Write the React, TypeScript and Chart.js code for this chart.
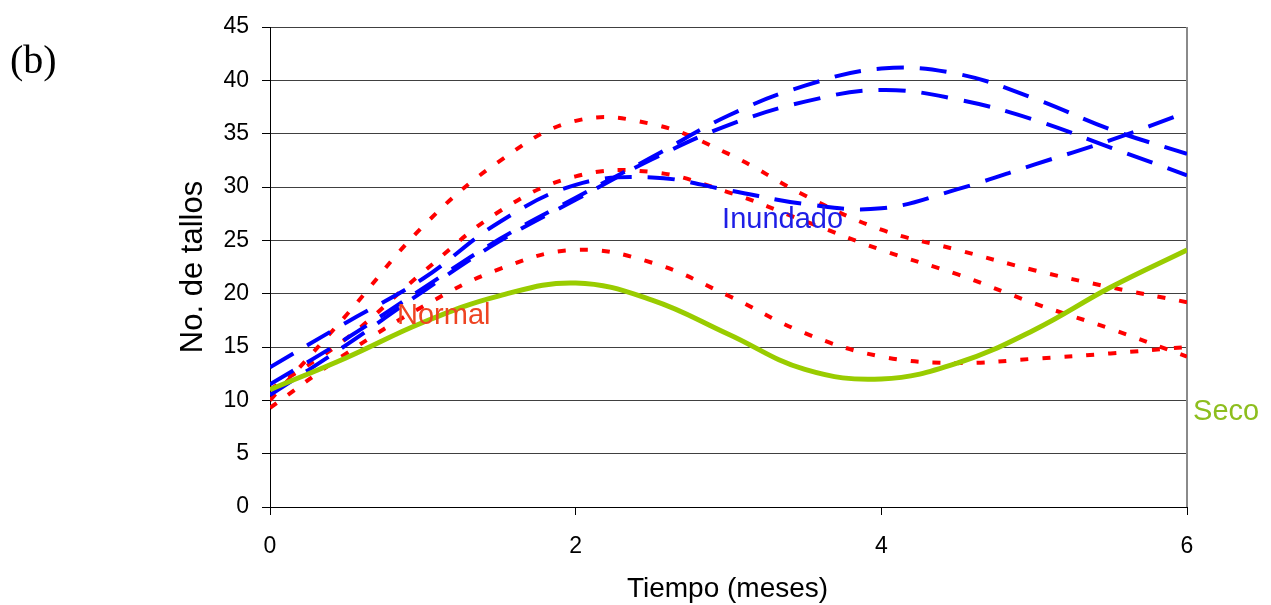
import React, { useEffect, useRef } from "react";
import { Chart, registerables } from "chart.js";

Chart.register(...registerables);

// Time in months (x values shared by all series)
const months = [0, 0.5, 1, 1.5, 2, 2.5, 3, 3.5, 4, 4.5, 5, 5.5, 6];

// Seco (dry) – green solid line
const seco = [11.0, 14.0, 17.3, 19.8, 21.0, 19.4, 16.2, 12.9, 12.0, 13.5, 16.6, 20.6, 24.1];

// Inundado (flooded) – blue dashed lines
const inundado1 = [13.1, 17.3, 21.4, 26.7, 30.2, 30.9, 29.7, 28.4, 28.0, 29.8, 32.1, 34.4, 37.0];
const inundado2 = [11.5, 15.8, 20.5, 25.1, 29.0, 32.8, 36.7, 39.5, 41.1, 40.6, 38.3, 35.4, 33.1];
const inundado3 = [10.5, 15.2, 20.2, 24.9, 28.8, 32.6, 35.8, 38.0, 39.1, 38.2, 36.3, 33.7, 31.1];

// Normal – red dotted lines
const normal1 = [10.0, 18.0, 26.3, 32.4, 36.2, 35.9, 33.1, 29.2, 26.0, 24.1, 22.2, 20.6, 19.2];
const normal2 = [11.0, 15.8, 22.0, 27.7, 31.0, 31.4, 29.5, 26.8, 24.1, 21.8, 19.1, 16.7, 14.1];
const normal3 = [9.3, 14.4, 18.8, 22.3, 24.1, 22.9, 19.8, 16.3, 14.1, 13.5, 13.9, 14.4, 15.0];

// Tick settings
const xTickStep = 2;
const yTickStep = 5;
const yMax = 45;
const xMax = 6;

// Text labels and their anchor positions (data coordinates)
const panelLabel = "(b)";
const xTitle = "Tiempo (meses)";
const yTitle = "No. de tallos";
const labelInundado = { text: "Inundado", x: 2.958, y: 26.16, color: "#1E1EE6" };
const labelNormal = { text: "Normal", x: 0.831, y: 17.16, color: "#EE4422" };
const labelSeco = { text: "Seco", x: 6.04, y: 8.16, color: "#8DBE1E" };

const SANS = "'Liberation Sans', Arial, sans-serif";
const SERIF = "'Liberation Serif', 'Times New Roman', serif";

const toPoints = (ys: number[]) => months.map((x, i) => ({ x, y: ys[i] }));

export default function App() {
  const canvasRef = useRef<HTMLCanvasElement | null>(null);

  useEffect(() => {
    const canvas = canvasRef.current;
    if (!canvas) return;

    const decorations = {
      id: "decorations",
      beforeDatasetsDraw(chart: any) {
        const { ctx, chartArea } = chart;
        ctx.save();
        ctx.strokeStyle = "#8a8a8a";
        ctx.lineWidth = 2;
        ctx.beginPath();
        ctx.moveTo(chartArea.right, chartArea.top);
        ctx.lineTo(chartArea.right, chartArea.bottom);
        ctx.stroke();
        ctx.restore();
      },
      afterDraw(chart: any) {
        const { ctx, chartArea, scales } = chart;
        const xs = scales.x;
        const ys = scales.y;
        ctx.save();
        ctx.textBaseline = "alphabetic";
        // annotations
        ctx.font = `29px ${SANS}`;
        ctx.textAlign = "left";
        for (const l of [labelInundado, labelNormal, labelSeco]) {
          ctx.fillStyle = l.color;
          ctx.fillText(l.text, xs.getPixelForValue(l.x), ys.getPixelForValue(l.y));
        }
        // panel label
        ctx.fillStyle = "#000";
        ctx.font = `40px ${SERIF}`;
        ctx.fillText(panelLabel, 10, 73);
        // x title
        ctx.font = `28px ${SANS}`;
        ctx.textAlign = "center";
        ctx.fillText(xTitle, (chartArea.left + chartArea.right) / 2 - 1, 597);
        // y title
        ctx.font = `31px ${SANS}`;
        ctx.translate(202, (chartArea.top + chartArea.bottom) / 2);
        ctx.rotate(-Math.PI / 2);
        ctx.fillText(yTitle, 0, 0);
        ctx.restore();
      },
    };

    const chart = new Chart(canvas, {
      type: "line",
      data: {
        datasets: [
          {
            label: "Seco",
            data: toPoints(seco),
            borderColor: "#99CC00",
            borderWidth: 5,
            pointRadius: 0,
            tension: 0.4,
            fill: false,
          },
          ...[inundado1, inundado2, inundado3].map((d, i) => ({
            label: `Inundado ${i + 1}`,
            data: toPoints(d),
            borderColor: "#0000FF",
            borderWidth: 4,
            borderDash: [27, 16],
            borderCapStyle: "butt" as const,
            pointRadius: 0,
            tension: 0.4,
            fill: false,
          })),
          ...[normal1, normal2, normal3].map((d, i) => ({
            label: `Normal ${i + 1}`,
            data: toPoints(d),
            borderColor: "#FF0000",
            borderWidth: 4,
            borderDash: [8, 14],
            borderCapStyle: "butt" as const,
            pointRadius: 0,
            tension: 0.4,
            fill: false,
          })),
        ],
      },
      options: {
        animation: false,
        responsive: true,
        maintainAspectRatio: false,
        layout: { padding: { top: 27, right: 84, left: 0, bottom: 0 } },
        plugins: {
          legend: { display: false },
          tooltip: { enabled: false },
          title: { display: false },
        },
        scales: {
          x: {
            type: "linear",
            min: 0,
            max: xMax,
            ticks: {
              stepSize: xTickStep,
              color: "#000",
              font: { family: SANS, size: 23 },
              padding: 18,
            },
            grid: {
              drawOnChartArea: false,
              drawTicks: true,
              tickLength: 8,
              tickColor: "#000",
            },
            border: { color: "#000", width: 1 },
            afterFit: (s: any) => {
              s.height = 98;
            },
          },
          y: {
            type: "linear",
            min: 0,
            max: yMax,
            ticks: {
              stepSize: yTickStep,
              color: "#000",
              font: { family: SANS, size: 23 },
              padding: 13,
            },
            grid: {
              color: "#404040",
              lineWidth: 1,
              drawTicks: true,
              tickLength: 8,
              tickColor: "#000",
            },
            border: { color: "#000", width: 1 },
            afterFit: (s: any) => {
              s.width = 270;
            },
          },
        },
      },
      plugins: [decorations],
    });

    return () => chart.destroy();
  }, []);

  return (
    <div style={{ position: "fixed", left: 0, top: 0, width: 1271, height: 605, background: "#fff" }}>
      <canvas ref={canvasRef} />
    </div>
  );
}
